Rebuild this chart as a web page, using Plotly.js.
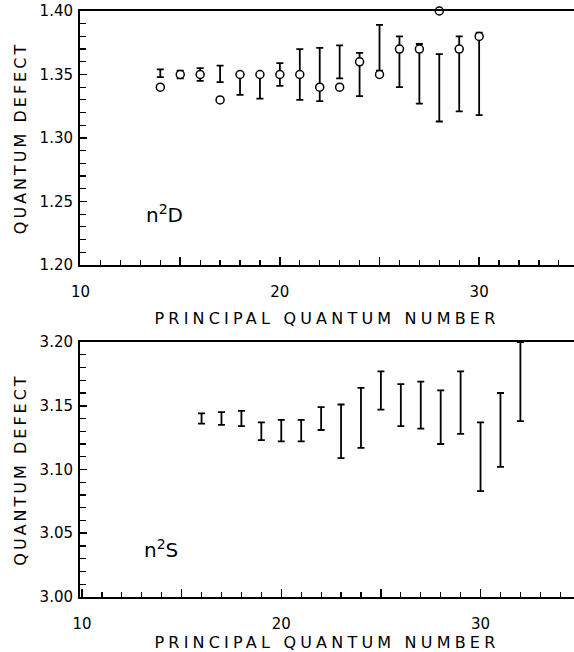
<!DOCTYPE html>
<html><head><meta charset="utf-8">
<script src="https://cdn.plot.ly/plotly-3.0.1.min.js"></script>
<style>
html,body{margin:0;padding:0;background:#fff}
#chart{width:574px;height:652px}
#chart .g-xtitle text, #chart .g-x2title text{letter-spacing:4.2px}
#chart .g-ytitle text, #chart .g-y2title text{letter-spacing:3px}
</style>
</head><body><div id="chart"></div>
<script>
// n^2 D series (top panel)
const dN       = [14,15,16,17,18,19,20,21,22,23,24,25,26,27,28,29,30];
const dCircle  = [1.34,1.35,1.35,1.33,1.35,1.35,1.35,1.35,1.34,1.34,1.36,1.35,1.37,1.37,1.40,1.37,1.38];
const dBarLow  = [1.348,1.347,1.345,1.344,1.334,1.331,1.341,1.330,1.329,1.347,1.333,1.353,1.340,1.327,1.313,1.321,1.318];
const dBarHigh = [1.354,1.353,1.355,1.357,1.350,1.350,1.359,1.370,1.371,1.373,1.367,1.389,1.380,1.374,1.366,1.380,1.383];
// n^2 S series (bottom panel)
const sN       = [16,17,18,19,20,21,22,23,24,25,26,27,28,29,30,31,32];
const sBarLow  = [3.136,3.135,3.134,3.123,3.122,3.122,3.131,3.109,3.117,3.147,3.134,3.132,3.120,3.128,3.083,3.102,3.138];
const sBarHigh = [3.144,3.145,3.146,3.137,3.139,3.139,3.149,3.151,3.164,3.177,3.167,3.169,3.162,3.177,3.137,3.160,3.200];
// axis labels
const xLabelVals = [10,20,30];
const xMidTickVals = [15,25];
const xTitle = 'PRINCIPAL QUANTUM NUMBER';
const yTitle = 'QUANTUM DEFECT';

const mid = (lo, hi) => lo.map((v,i) => (v + hi[i]) / 2);
const half = (lo, hi) => lo.map((v,i) => (hi[i] - v) / 2);

const FONT = 'DejaVu Sans, Arial, sans-serif';

function barTrace(xs, lo, hi, xa, ya) {
  return {
    type: 'scatter', mode: 'markers', x: xs, y: mid(lo, hi), xaxis: xa, yaxis: ya,
    marker: {size: 2, color: 'rgba(0,0,0,0)'},
    error_y: {type: 'data', symmetric: true, array: half(lo, hi), color: '#000', thickness: 1.8, width: 3.5},
    showlegend: false, hoverinfo: 'skip'
  };
}

const traces = [
  barTrace(dN, dBarLow, dBarHigh, 'x', 'y'),
  {type: 'scatter', mode: 'markers', x: dN, y: dCircle, xaxis: 'x', yaxis: 'y', cliponaxis: false,
   marker: {symbol: 'circle', size: 8, color: '#fff', line: {color: '#000', width: 1.5}}, showlegend: false},
  barTrace(sN, sBarLow, sBarHigh, 'x2', 'y2'),
  // empty traces so the overlay tick axes get their subplots
  {type: 'scatter', mode: 'markers', x: [], y: [], xaxis: 'x3', yaxis: 'y', showlegend: false},
  {type: 'scatter', mode: 'markers', x: [], y: [], xaxis: 'x4', yaxis: 'y2', showlegend: false}
];

function xAxis(anchor, range) {
  return {
    anchor: anchor, domain: [0, 1], range: range,
    tickvals: xLabelVals,
    ticks: 'inside', ticklen: 8, tickwidth: 1.5, tickcolor: '#000',
    minor: {dtick: 1, tick0: 10, ticks: 'inside', ticklen: 5, tickwidth: 1.2, tickcolor: '#000'},
    ticklabelstandoff: 12,
    showline: true, linewidth: 2, linecolor: '#000', mirror: true,
    showgrid: false, zeroline: false,
    tickfont: {family: FONT, size: 15, color: '#000'},
    title: {text: xTitle, standoff: 13, font: {family: FONT, size: 16, color: '#000'}}
  };
}
function xOverlay(over, anchor, range) {
  return {
    overlaying: over, anchor: anchor, side: 'bottom', domain: [0, 1], range: range,
    tickvals: xMidTickVals, showticklabels: false,
    ticks: 'inside', ticklen: 8, tickwidth: 1.5, tickcolor: '#000',
    showline: false, showgrid: false, zeroline: false
  };
}
function yAxis(anchor, domain, range) {
  return {
    anchor: anchor, domain: domain, range: range,
    dtick: 0.05, tickformat: '.2f',
    ticks: 'inside', ticklen: 7, tickwidth: 1.5, tickcolor: '#000',
    minor: {dtick: 0.01, ticks: 'inside', ticklen: 6, tickwidth: 1.2, tickcolor: '#000'},
    ticklabelstandoff: 2,
    showline: true, linewidth: 2, linecolor: '#000',
    showgrid: false, zeroline: false,
    tickfont: {family: FONT, size: 15, color: '#000'},
    title: {text: yTitle, standoff: 9, font: {family: FONT, size: 16, color: '#000'}}
  };
}

const topRange = [9.97, 34.76];
const botRange = [9.9, 34.69];

const layout = {
  width: 574, height: 652,
  margin: {l: 80, r: 0, t: 10, b: 55},
  paper_bgcolor: '#fff', plot_bgcolor: '#fff',
  showlegend: false,
  xaxis: xAxis('y', topRange),
  yaxis: yAxis('x', [0.5656, 0.9983], [1.20, 1.40]),
  xaxis2: xAxis('y2', botRange),
  yaxis2: yAxis('x2', [0, 0.4344], [3.00, 3.20]),
  xaxis3: xOverlay('x', 'y', topRange),
  xaxis4: xOverlay('x2', 'y2', botRange),
  annotations: [
    {xref: 'paper', yref: 'paper', x: 0.172, y: 0.6525, xanchor: 'center', yanchor: 'middle',
     text: 'n<sup>2</sup>D', showarrow: false, font: {family: FONT, size: 20, color: '#000'}},
    {xref: 'paper', yref: 'paper', x: 0.163, y: 0.0818, xanchor: 'center', yanchor: 'middle',
     text: 'n<sup>2</sup>S', showarrow: false, font: {family: FONT, size: 20, color: '#000'}}
  ]
};

Plotly.newPlot('chart', traces, layout, {staticPlot: true}).then(() => {
  document.querySelectorAll('#chart text').forEach(t => { if (!t.textContent.trim()) t.remove(); });
});
</script>
</body></html>
